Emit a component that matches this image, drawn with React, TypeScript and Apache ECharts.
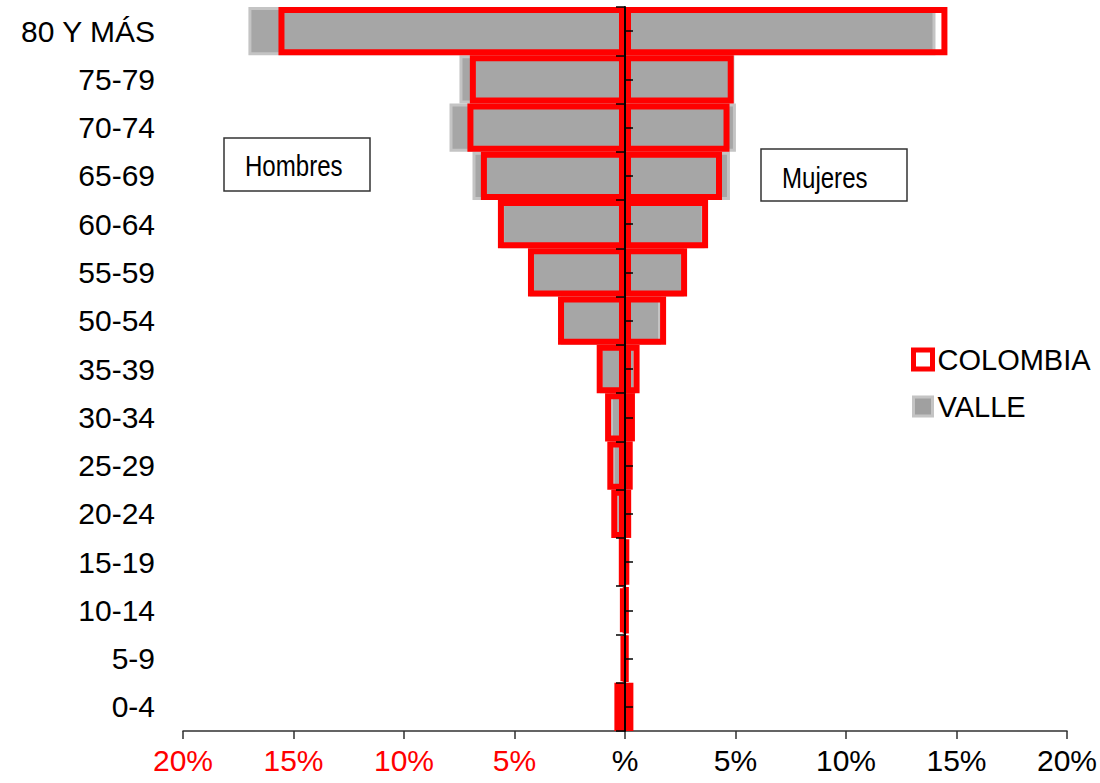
import React, { useEffect, useRef } from "react";
import * as echarts from "echarts";

const categories = ["0-4", "5-9", "10-14", "15-19", "20-24", "25-29", "30-34", "35-39", "50-54", "55-59", "60-64", "65-69", "70-74", "75-79", "80 Y MÁS"];
const colombiaHombres = [0.48, 0.14, 0.19, 0.28, 0.62, 0.8, 0.9, 1.28, 3.03, 4.39, 5.75, 6.52, 7.13, 7.02, 15.68];
const colombiaMujeres = [0.38, 0.07, 0.08, 0.12, 0.28, 0.35, 0.45, 0.66, 1.86, 2.81, 3.76, 4.39, 4.73, 4.92, 14.59];
const valleHombres = [0.27, 0.1, 0.12, 0.2, 0.43, 0.6, 0.68, 1.13, 2.9, 4.3, 5.6, 6.9, 7.94, 7.49, 17.04];
const valleMujeres = [0.22, 0.05, 0.05, 0.08, 0.15, 0.22, 0.33, 0.5, 1.63, 2.67, 3.6, 4.75, 5.02, 4.95, 14.05];
const xTicks = { min: -20, max: 20, interval: 5 };

const FONT = "'Liberation Sans', Arial, sans-serif";

export default function App() {
  const ref = useRef<HTMLDivElement>(null);
  useEffect(() => {
    if (!ref.current) return;
    const chart = echarts.init(ref.current, undefined, { renderer: "svg" });
    const valleStyle = { color: "#a6a6a6", borderColor: "#c4c4c4", borderWidth: 3 };
    const colStyle = { color: "rgba(255,255,255,0)", borderColor: "#ff0000", borderWidth: 6 };
    const barCommon = { type: "bar", barGap: "-100%", barCategoryGap: "0%", yAxisIndex: 0 };
    chart.setOption({
      animation: false,
      backgroundColor: "#ffffff",
      grid: { left: 183, right: 33, top: 7, bottom: 52, containLabel: false },
      legend: {
        orient: "vertical",
        left: 906,
        top: 340,
        itemWidth: 19,
        itemHeight: 19,
        itemGap: 18,
        selectedMode: false,
        textStyle: { fontSize: 29, color: "#000", fontFamily: FONT },
        data: [
          { name: "COLOMBIA", icon: "rect", itemStyle: { color: "#ffffff", borderColor: "#ff0000", borderWidth: 5 } },
          { name: "VALLE", icon: "rect", itemStyle: { color: "#a0a0a0", borderColor: "#c4c4c4", borderWidth: 3 } },
        ],
      },
      xAxis: {
        type: "value",
        min: xTicks.min,
        max: xTicks.max,
        interval: xTicks.interval,
        splitLine: { show: false },
        axisLine: { show: true, lineStyle: { color: "#303030", width: 1.5 } },
        axisTick: { show: true, length: 8, lineStyle: { color: "#303030", width: 1.5 } },
        axisLabel: {
          fontSize: 30,
          fontFamily: FONT,
          margin: 14,
          formatter: (v: number) => (v === 0 ? "%" : Math.abs(v) + "%"),
          color: (v: any) => (Number(v) < 0 ? "#ff0000" : "#000000"),
        },
      },
      yAxis: [
        {
          type: "category",
          data: categories,
          position: "left",
          axisLine: { show: false, onZero: false },
          axisTick: { show: false },
          splitLine: { show: false },
          axisLabel: { fontSize: 30, fontFamily: FONT, color: "#000", margin: 28 },
        },
        {
          type: "category",
          data: categories,
          position: "left",
          z: 10,
          axisLine: { show: true, onZero: true, onZeroAxisIndex: 0, lineStyle: { color: "#000", width: 2 } },
          axisTick: { show: true, inside: false, length: 9, alignWithLabel: false, lineStyle: { color: "#000", width: 1.5 } },
          axisLabel: { show: false },
          splitLine: { show: false },
        },
        {
          type: "category",
          data: categories,
          position: "left",
          z: 10,
          axisLine: { show: false, onZero: true, onZeroAxisIndex: 0 },
          axisTick: { show: true, inside: true, length: 8, alignWithLabel: true, lineStyle: { color: "#000", width: 1.5 } },
          axisLabel: { show: false },
          splitLine: { show: false },
        },
      ],
      graphic: [
        {
          type: "group",
          children: [
            { type: "rect", shape: { x: 224, y: 138, width: 146, height: 53 }, style: { fill: "#fff", stroke: "#333", lineWidth: 1.5 } },
            { type: "text", x: 245, y: 166, scaleX: 0.83, style: { text: "Hombres", font: `29px ${FONT}`, fill: "#000", verticalAlign: "middle", align: "left" } },
            { type: "rect", shape: { x: 761, y: 149, width: 146, height: 52 }, style: { fill: "#fff", stroke: "#333", lineWidth: 1.5 } },
            { type: "text", x: 782, y: 178, scaleX: 0.83, style: { text: "Mujeres", font: `29px ${FONT}`, fill: "#000", verticalAlign: "middle", align: "left" } },
          ],
        },
      ],
      series: [
        { ...barCommon, name: "VALLE", data: valleHombres.map((v) => -v), itemStyle: valleStyle },
        { ...barCommon, name: "VALLE", data: valleMujeres, itemStyle: valleStyle },
        { ...barCommon, name: "COLOMBIA", data: colombiaHombres.map((v) => -v), itemStyle: colStyle },
        { ...barCommon, name: "COLOMBIA", data: colombiaMujeres, itemStyle: colStyle },
      ],
    });
    return () => chart.dispose();
  }, []);
  return <div ref={ref} style={{ position: "fixed", left: 0, top: 0, width: 1100, height: 783 }} />;
}
